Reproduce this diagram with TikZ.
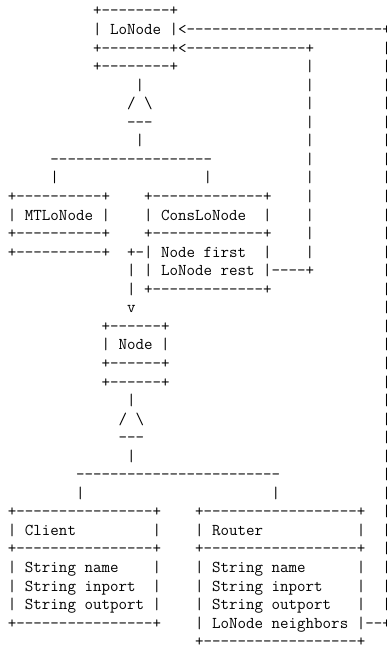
\documentclass[tikz,border=0pt]{standalone}
\newcommand\tsp[1]{\foreach\k in {1,...,#1}{~}}
\newcommand\tdash[1]{\foreach\k in {1,...,#1}{-}}
\begin{document}
\begin{tikzpicture}[x=8.5pt,y=-18.55pt,
  asc/.style={anchor=base west,inner sep=0pt,
    font=\fontsize{16.52}{18.55}\selectfont\ttfamily}]
\useasboundingbox (-7.75pt,-2.55pt) rectangle (379.25pt,-652.55pt);
% LoNode and its two subclasses
\node[asc] (l01) at (0,1)  {\tsp{10}+\tdash8+};
\node[asc] (l02) at (0,2)  {\tsp{10}| LoNode |<\tdash{23}+};
\node[asc] (l03) at (0,3)  {\tsp{10}+\tdash8+<\tdash{14}+\tsp8|};
\node[asc] (l04) at (0,4)  {\tsp{10}+\tdash8+\tsp{15}|\tsp8|};
\node[asc] (l05) at (0,5)  {\tsp{15}|\tsp{19}|\tsp8|};
\node[asc] (l06) at (0,6)  {\tsp{14}/ \textbackslash\tsp{18}|\tsp8|};
\node[asc] (l07) at (0,7)  {\tsp{14}---\tsp{18}|\tsp8|};
\node[asc] (l08) at (0,8)  {\tsp{15}|\tsp{19}|\tsp8|};
\node[asc] (l09) at (0,9)  {\tsp5\tdash{19}\tsp{11}|\tsp8|};
\node[asc] (l10) at (0,10) {\tsp5|\tsp{17}|\tsp{11}|\tsp8|};
\node[asc] (l11) at (0,11) {+\tdash{10}+\tsp4+\tdash{13}+\tsp4|\tsp8|};
\node[asc] (l12) at (0,12) {| MTLoNode |\tsp4| ConsLoNode\tsp2|\tsp4|\tsp8|};
\node[asc] (l13) at (0,13) {+\tdash{10}+\tsp4+\tdash{13}+\tsp4|\tsp8|};
\node[asc] (l14) at (0,14) {+\tdash{10}+\tsp2+-| Node first\tsp2|\tsp4|\tsp8|};
\node[asc] (l15) at (0,15) {\tsp{14}|\tsp1| LoNode rest |\tdash4+\tsp8|};
\node[asc] (l16) at (0,16) {\tsp{14}|\tsp1+\tdash{13}+\tsp{13}|};
\node[asc] (l17) at (0,17) {\tsp{14}v\tsp{29}|};
% Node
\node[asc] (l18) at (0,18) {\tsp{11}+\tdash6+\tsp{25}|};
\node[asc] (l19) at (0,19) {\tsp{11}| Node |\tsp{25}|};
\node[asc] (l20) at (0,20) {\tsp{11}+\tdash6+\tsp{25}|};
\node[asc] (l21) at (0,21) {\tsp{11}+\tdash6+\tsp{25}|};
\node[asc] (l22) at (0,22) {\tsp{14}|\tsp{29}|};
\node[asc] (l23) at (0,23) {\tsp{13}/ \textbackslash\tsp{28}|};
\node[asc] (l24) at (0,24) {\tsp{13}---\tsp{28}|};
\node[asc] (l25) at (0,25) {\tsp{14}|\tsp{29}|};
\node[asc] (l26) at (0,26) {\tsp8\tdash{24}\tsp{12}|};
\node[asc] (l27) at (0,27) {\tsp8|\tsp{22}|\tsp{12}|};
% Client and Router
\node[asc] (l28) at (0,28) {+\tdash{16}+\tsp4+\tdash{18}+\tsp2|};
\node[asc] (l29) at (0,29) {| Client\tsp9|\tsp4| Router\tsp{11}|\tsp2|};
\node[asc] (l30) at (0,30) {+\tdash{16}+\tsp4+\tdash{18}+\tsp2|};
\node[asc] (l31) at (0,31) {| String name\tsp4|\tsp4| String name\tsp6|\tsp2|};
\node[asc] (l32) at (0,32) {| String inport\tsp2|\tsp4| String inport\tsp4|\tsp2|};
\node[asc] (l33) at (0,33) {| String outport |\tsp4| String outport\tsp3|\tsp2|};
\node[asc] (l34) at (0,34) {+\tdash{16}+\tsp4| LoNode neighbors |--+};
\node[asc] (l35) at (0,35) {\tsp{22}+\tdash{18}+};
\end{tikzpicture}
\end{document}
